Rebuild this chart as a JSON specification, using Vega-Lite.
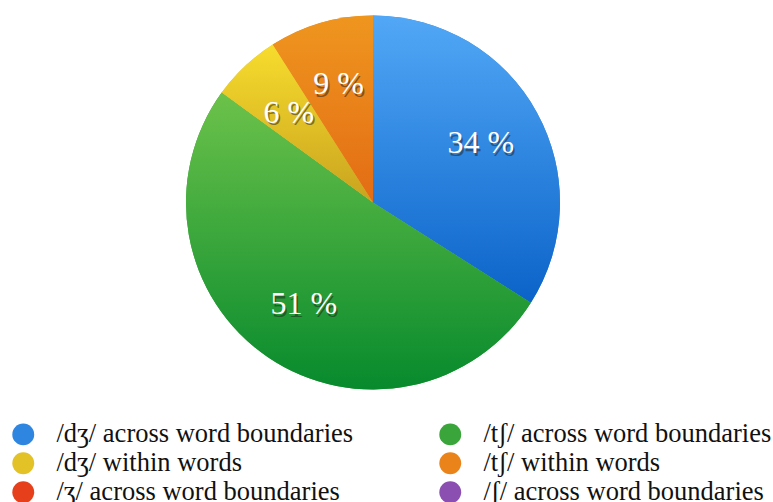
{
  "$schema": "https://vega.github.io/schema/vega-lite/v6.json",
  "width": 746,
  "height": 405,
  "autosize": {"type": "none"},
  "padding": {"left": 0, "top": 0, "right": 27, "bottom": 97},
  "background": "white",
  "config": {"view": {"stroke": null}, "font": "Liberation Serif"},
  "data": {
    "values": [
      {"idx": 1, "category": "/dʒ/ across word boundaries", "value": 34, "label": "34 %"},
      {"idx": 2, "category": "/tʃ/ across word boundaries", "value": 51, "label": "51 %"},
      {"idx": 3, "category": "/dʒ/ within words", "value": 6, "label": "6 %"},
      {"idx": 4, "category": "/tʃ/ within words", "value": 9, "label": "9 %"},
      {"idx": 5, "category": "/ʒ/ across word boundaries", "value": 0, "label": ""},
      {"idx": 6, "category": "/ʃ/ across word boundaries", "value": 0, "label": ""}
    ]
  },
  "layer": [
    {
      "mark": {"type": "arc", "radius": 187, "stroke": null},
      "encoding": {
        "theta": {"field": "value", "type": "quantitative", "stack": true, "scale": {"domain": [0, 100]}},
        "order": {"field": "idx", "type": "quantitative"},
        "color": {
          "field": "category",
          "type": "nominal",
          "sort": null,
          "scale": {
            "domain": [
              "/dʒ/ across word boundaries",
              "/tʃ/ across word boundaries",
              "/dʒ/ within words",
              "/tʃ/ within words",
              "/ʒ/ across word boundaries",
              "/ʃ/ across word boundaries"
            ],
            "range": ["#2F86E0", "#3AA53B", "#E2C226", "#EA8319", "#E5401B", "#8A4FB0"]
          },
          "legend": {
            "orient": "none",
            "legendX": 10,
            "legendY": 421,
            "title": null,
            "columns": 2,
            "direction": "horizontal",
            "symbolType": "circle",
            "symbolSize": 480,
            "symbolStrokeWidth": 0,
            "symbolOpacity": 1,
            "labelFont": "Liberation Serif",
            "labelFontSize": 26.5,
            "labelColor": "#111111",
            "labelLimit": 500,
            "labelOffset": 20,
            "rowPadding": 2,
            "columnPadding": 83,
            "padding": 0,
            "offset": 0
          }
        }
      }
    },
    {
      "transform": [
        {"stack": "value", "groupby": [], "sort": [{"field": "idx", "order": "ascending"}], "as": ["v0", "v1"]},
        {"filter": "datum.idx == 1"}
      ],
      "mark": {"type": "arc", "radius": 187, "stroke": null, "color": {"gradient": "linear", "x1": 0, "y1": 0, "x2": 0, "y2": 1, "stops": [{"offset": 0, "color": "#52A8F6"}, {"offset": 1, "color": "#0B63C9"}]}},
      "encoding": {
        "theta": {"field": "v0", "type": "quantitative"},
        "theta2": {"field": "v1"}
      }
    },
    {
      "transform": [
        {"stack": "value", "groupby": [], "sort": [{"field": "idx", "order": "ascending"}], "as": ["v0", "v1"]},
        {"filter": "datum.idx == 2"}
      ],
      "mark": {"type": "arc", "radius": 187, "stroke": null, "color": {"gradient": "linear", "x1": 0, "y1": 0, "x2": 0, "y2": 1, "stops": [{"offset": 0, "color": "#6CC24A"}, {"offset": 1, "color": "#078A2D"}]}},
      "encoding": {
        "theta": {"field": "v0", "type": "quantitative"},
        "theta2": {"field": "v1"}
      }
    },
    {
      "transform": [
        {"stack": "value", "groupby": [], "sort": [{"field": "idx", "order": "ascending"}], "as": ["v0", "v1"]},
        {"filter": "datum.idx == 3"}
      ],
      "mark": {"type": "arc", "radius": 187, "stroke": null, "color": {"gradient": "linear", "x1": 0, "y1": 0, "x2": 0, "y2": 1, "stops": [{"offset": 0, "color": "#F7DC2D"}, {"offset": 1, "color": "#C9A31F"}]}},
      "encoding": {
        "theta": {"field": "v0", "type": "quantitative"},
        "theta2": {"field": "v1"}
      }
    },
    {
      "transform": [
        {"stack": "value", "groupby": [], "sort": [{"field": "idx", "order": "ascending"}], "as": ["v0", "v1"]},
        {"filter": "datum.idx == 4"}
      ],
      "mark": {"type": "arc", "radius": 187, "stroke": null, "color": {"gradient": "linear", "x1": 0, "y1": 0, "x2": 0, "y2": 1, "stops": [{"offset": 0, "color": "#EF961F"}, {"offset": 1, "color": "#E36C14"}]}},
      "encoding": {
        "theta": {"field": "v0", "type": "quantitative"},
        "theta2": {"field": "v1"}
      }
    },
    {
      "transform": [{"filter": "datum.value > 0"}],
      "mark": {"type": "text", "radius": 123, "font": "Liberation Serif", "fontSize": 32, "fill": "#222222", "opacity": 0.5, "dx": 1.5, "dy": 2.5, "align": "center", "baseline": "middle"},
      "encoding": {
        "theta": {"field": "value", "type": "quantitative", "stack": true},
        "order": {"field": "idx", "type": "quantitative"},
        "text": {"field": "label", "type": "nominal"}
      }
    },
    {
      "transform": [{"filter": "datum.value > 0"}],
      "mark": {"type": "text", "radius": 123, "font": "Liberation Serif", "fontSize": 32, "fill": "white", "align": "center", "baseline": "middle"},
      "encoding": {
        "theta": {"field": "value", "type": "quantitative", "stack": true},
        "order": {"field": "idx", "type": "quantitative"},
        "text": {"field": "label", "type": "nominal"}
      }
    }
  ]
}
